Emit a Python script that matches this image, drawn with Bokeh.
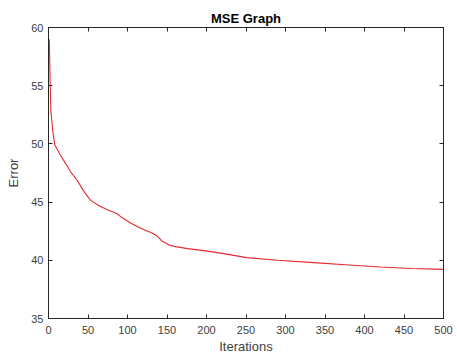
from bokeh.plotting import figure
from bokeh.models import Range1d, LinearAxis, FixedTicker, Title
from bokeh.embed import file_html
from bokeh.resources import INLINE

iterations = [1, 2, 3, 5.5, 8, 15, 21.5, 28, 36, 45, 53, 64, 76, 87, 91, 104, 116, 131, 138,
              144, 154, 163, 176, 197, 218, 251, 290, 336, 380, 420, 460, 500]
mse = [59.0, 55.5, 52.8, 51.06, 49.9, 49.05, 48.33, 47.6, 46.9, 45.9, 45.17, 44.68, 44.3,
       44.0, 43.77, 43.2, 42.78, 42.35, 42.06, 41.63, 41.28, 41.15, 41.0, 40.83, 40.62, 40.23,
       40.0, 39.8, 39.6, 39.42, 39.3, 39.22]
x_ticks = [0, 50, 100, 150, 200, 250, 300, 350, 400, 450, 500]
y_ticks = [35, 40, 45, 50, 55, 60]

FONT = "Liberation Sans"
TXT = "#404040"
AX = "#262626"

p = figure(width=457, height=357, output_backend="svg", toolbar_location=None,
           x_range=Range1d(0, 500), y_range=Range1d(35, 60),
           min_border_left=48, min_border_right=14, min_border_top=27, min_border_bottom=39)
p.title = Title(text="MSE Graph", text_font=FONT, text_font_size="13px", text_font_style="bold",
                align="center", text_color="#000000", offset=0, standoff=4)
p.xgrid.visible = False
p.ygrid.visible = False
p.outline_line_color = AX
p.background_fill_color = "white"
p.border_fill_color = "white"

p.line(iterations, mse, line_color="#e8282b", line_width=1.1)

for ax in (p.xaxis[0], p.yaxis[0]):
    ax.axis_line_color = AX
    ax.major_tick_line_color = AX
    ax.major_tick_in = 4
    ax.major_tick_out = 0
    ax.minor_tick_line_color = None
    ax.major_label_text_font = FONT
    ax.major_label_text_font_size = "11px"
    ax.major_label_text_color = TXT
    ax.axis_label_text_font = FONT
    ax.axis_label_text_font_size = "13px"
    ax.axis_label_text_font_style = "normal"
    ax.axis_label_text_color = TXT
p.xaxis[0].ticker = FixedTicker(ticks=x_ticks)
p.yaxis[0].ticker = FixedTicker(ticks=y_ticks)
p.xaxis[0].axis_label = "Iterations"
p.yaxis[0].axis_label = "Error"
p.xaxis[0].axis_label_standoff = 2
p.yaxis[0].axis_label_standoff = 7
p.xaxis[0].major_label_standoff = 7
p.yaxis[0].major_label_standoff = 5

top = LinearAxis(ticker=FixedTicker(ticks=x_ticks), major_label_text_color=None,
                 major_tick_in=4, major_tick_out=0, minor_tick_line_color=None,
                 axis_line_color=AX, major_tick_line_color=AX, major_label_standoff=0)
right = LinearAxis(ticker=FixedTicker(ticks=y_ticks), major_label_text_color=None,
                   major_tick_in=4, major_tick_out=0, minor_tick_line_color=None,
                   axis_line_color=AX, major_tick_line_color=AX, major_label_standoff=0)
p.add_layout(top, "above")
p.add_layout(right, "right")

open("out.html", "w").write(file_html(p, INLINE))
